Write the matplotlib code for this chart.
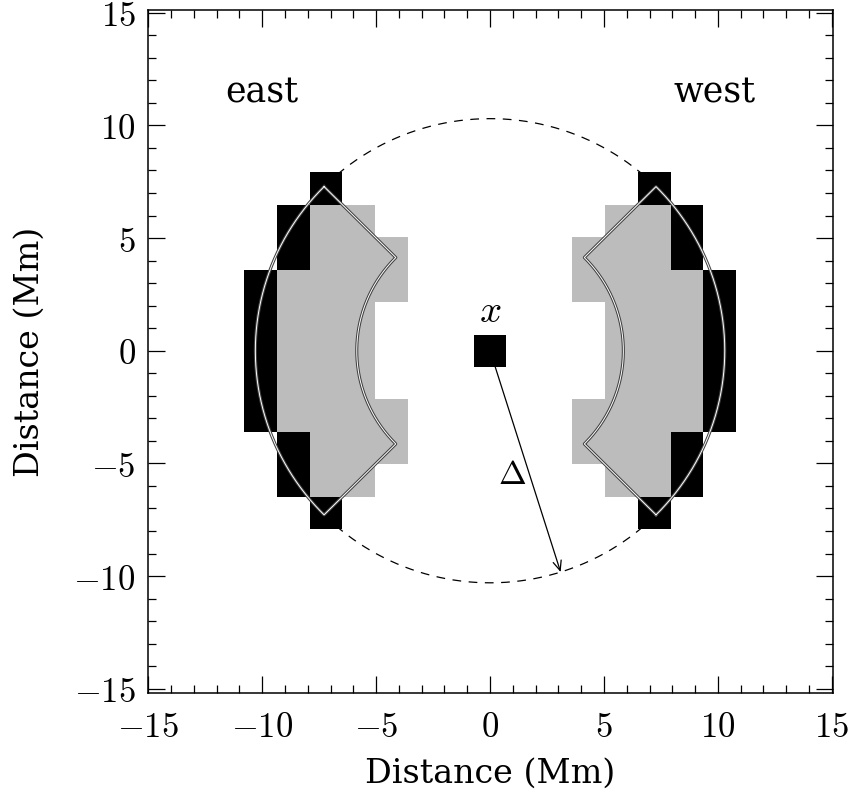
import numpy as np
import matplotlib
matplotlib.use('Agg')
import matplotlib.pyplot as plt
import matplotlib.patheffects as pe
from matplotlib.colors import ListedColormap
from matplotlib.ticker import MultipleLocator, FuncFormatter

plt.rcParams['font.family'] = 'DejaVu Serif'
plt.rcParams['mathtext.fontset'] = 'cm'

# pixel mask: 0 = empty, 1 = gray, 2 = black; rows top (j=5) to bottom (j=-5), columns i=-7..7
cell = 1.44
mask = [
    [0, 0, 2, 0, 0, 0, 0, 0, 0, 0, 0, 0, 2, 0, 0],
    [0, 2, 1, 1, 0, 0, 0, 0, 0, 0, 0, 1, 1, 2, 0],
    [0, 2, 1, 1, 1, 0, 0, 0, 0, 0, 1, 1, 1, 2, 0],
    [2, 1, 1, 1, 1, 0, 0, 0, 0, 0, 1, 1, 1, 1, 2],
    [2, 1, 1, 1, 0, 0, 0, 0, 0, 0, 0, 1, 1, 1, 2],
    [2, 1, 1, 1, 0, 0, 0, 2, 0, 0, 0, 1, 1, 1, 2],
    [2, 1, 1, 1, 0, 0, 0, 0, 0, 0, 0, 1, 1, 1, 2],
    [2, 1, 1, 1, 1, 0, 0, 0, 0, 0, 1, 1, 1, 1, 2],
    [0, 2, 1, 1, 1, 0, 0, 0, 0, 0, 1, 1, 1, 2, 0],
    [0, 2, 1, 1, 0, 0, 0, 0, 0, 0, 0, 1, 1, 2, 0],
    [0, 0, 2, 0, 0, 0, 0, 0, 0, 0, 0, 0, 2, 0, 0],
]
r_in = 5.85      # inner radius of annulus sectors
r_out = 10.3     # outer radius (Delta)
east_deg = (135, 225)
west_deg = (-45, 45)
arrow_deg = -72.5

fig = plt.figure(figsize=(8.52, 7.94), dpi=100)
ax = fig.add_axes([0.174, 0.1272, 0.8037, 0.8596])

m = np.array(mask)[::-1]
ny, nx = m.shape
xe = (np.arange(nx + 1) - nx / 2) * cell
ye = (np.arange(ny + 1) - ny / 2) * cell
cmap = ListedColormap(['white', '#bcbcbc', 'black'])
ax.pcolormesh(xe, ye, m, cmap=cmap, vmin=-0.5, vmax=2.5, zorder=2)

# dashed circle in the gaps
for a0, a1 in [(45, 135), (225, 315)]:
    t = np.radians(np.linspace(a0, a1, 200))
    ax.plot(r_out * np.cos(t), r_out * np.sin(t), color='black', lw=0.9,
            dashes=(7, 6), zorder=1)

# annulus sector outlines
for a0, a1 in [east_deg, west_deg]:
    t = np.radians(np.linspace(a0, a1, 300))
    xs = np.concatenate([r_out * np.cos(t), r_in * np.cos(t[::-1]), [r_out * np.cos(t[0])]])
    ys = np.concatenate([r_out * np.sin(t), r_in * np.sin(t[::-1]), [r_out * np.sin(t[0])]])
    ax.plot(xs, ys, color='white', lw=0.7, zorder=3,
            path_effects=[pe.Stroke(linewidth=2.2, foreground='0.25'), pe.Normal()])

# arrow from the central pixel to the circle
ta = np.radians(arrow_deg)
r0 = (cell / 2) / abs(np.sin(ta))
ax.annotate('', xy=(r_out * np.cos(ta), r_out * np.sin(ta)),
            xytext=(r0 * np.cos(ta), r0 * np.sin(ta)),
            arrowprops=dict(arrowstyle='->,head_length=0.7,head_width=0.3',
                            lw=0.9, color='black', shrinkA=0, shrinkB=0), zorder=4)

ax.text(0.95, -5.5, r'$\Delta$', fontsize=24, ha='center', va='center')
ax.text(0.0, 1.75, r'$x$', fontsize=28, ha='center', va='center')
ax.text(-10.0, 11.45, 'east', fontsize=25, ha='center', va='center')
ax.text(9.85, 11.45, 'west', fontsize=25, ha='center', va='center')

ax.set_xlim(-15, 15.05)
ax.set_ylim(-15.19, 15.1)
ax.xaxis.set_major_locator(MultipleLocator(5))
ax.xaxis.set_minor_locator(MultipleLocator(1))
ax.yaxis.set_major_locator(MultipleLocator(5))
ax.yaxis.set_minor_locator(MultipleLocator(1))
fmt = FuncFormatter(lambda v, p: r'$%d$' % round(v))
ax.xaxis.set_major_formatter(fmt)
ax.yaxis.set_major_formatter(fmt)
ax.tick_params(which='both', direction='in', top=True, right=True, width=0.9)
ax.tick_params(which='major', length=12, labelsize=25)
ax.tick_params(which='minor', length=6)
ax.tick_params(axis='x', pad=12)
ax.tick_params(axis='y', pad=9)
for s in ax.spines.values():
    s.set_linewidth(1.1)

ax.set_xlabel('Distance (Mm)', fontsize=24, labelpad=10)
ax.set_ylabel('Distance (Mm)', fontsize=24, labelpad=20)

fig.savefig('out.png', dpi=100)
plt.close()
